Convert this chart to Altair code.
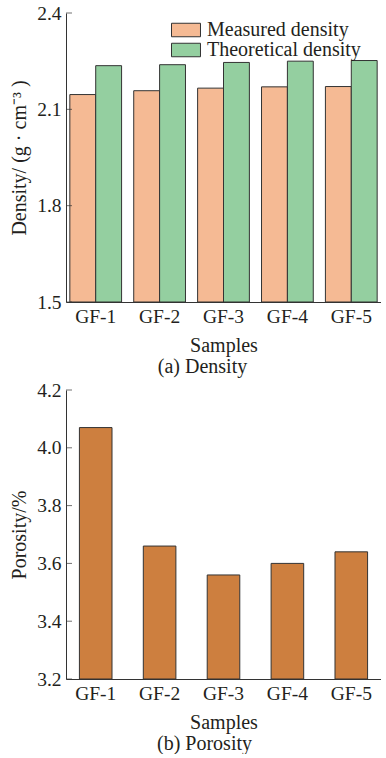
import altair as alt
import pandas as pd

# ---- data ----
samples = ["GF-1", "GF-2", "GF-3", "GF-4", "GF-5"]
measured_density = [2.146, 2.158, 2.166, 2.170, 2.171]
theoretical_density = [2.236, 2.239, 2.246, 2.250, 2.252]
porosity = [4.07, 3.66, 3.56, 3.60, 3.64]
series_names = ["Measured density", "Theoretical density"]
series_colors = ["#F5BA94", "#94CFA0"]
porosity_color = "#CD7F3F"
density_ticks = [1.5, 1.8, 2.1, 2.4]
porosity_ticks = [3.2, 3.4, 3.6, 3.8, 4.0, 4.2]

FONT = "Liberation Serif"
TXT = "#231F20"
LINE = "#333333"
W, H = 315, 289

df_density = pd.DataFrame({
    "Sample": samples * 2,
    "Series": [series_names[0]] * len(samples) + [series_names[1]] * len(samples),
    "Density": measured_density + theoretical_density,
})
df_por = pd.DataFrame({"Sample": samples, "Porosity": porosity})
df_dens_ticks = pd.DataFrame({"Density": density_ticks})
df_por_ticks = pd.DataFrame({"Porosity": porosity_ticks})


def x_axis():
    return alt.Axis(labelAngle=0, ticks=False, grid=False, labelPadding=5,
                    titlePadding=10, domainColor=LINE, labelFont=FONT,
                    labelFontSize=19.5, labelColor=TXT, titleFont=FONT,
                    titleFontSize=20, titleFontWeight="normal", titleColor=TXT)


def y_axis(title, values):
    return alt.Axis(title=title, values=values, format=".1f", ticks=False, grid=False,
                    labelPadding=5, titlePadding=7, domainColor=LINE,
                    labelFont=FONT, labelFontSize=19.5, labelColor=TXT,
                    titleFont=FONT, titleFontSize=20, titleFontWeight="normal",
                    titleColor=TXT)


# ---- (a) density ----
dens_scale = alt.Scale(domain=[1.5, 2.4], nice=False, zero=False)
dens_axis = y_axis("Density/ (g · cm⁻³ )", density_ticks)
bars_a = alt.Chart(df_density).mark_bar(stroke=LINE, strokeWidth=1).encode(
    x=alt.X("Sample:N", sort=samples, title="Samples",
            scale=alt.Scale(paddingInner=0.19, paddingOuter=0.06), axis=x_axis()),
    xOffset=alt.XOffset("Series:N", sort=series_names,
                        scale=alt.Scale(paddingInner=0, paddingOuter=0)),
    y=alt.Y("Density:Q", scale=dens_scale, axis=dens_axis),
    y2=alt.datum(density_ticks[0]),
    color=alt.Color("Series:N", sort=series_names,
                    scale=alt.Scale(domain=series_names, range=series_colors),
                    legend=alt.Legend(title=None, orient="none", legendX=110, legendY=7,
                                      symbolType="M-1.61,-0.75H1.61V0.75H-1.61Z",
                                      symbolSize=324,
                                      symbolStrokeColor=LINE, symbolStrokeWidth=1,
                                      symbolOpacity=1, labelFont=FONT, labelFontSize=20,
                                      labelColor=TXT, labelOffset=11, rowPadding=-2,
                                      padding=0)),
)
ticks_a = alt.Chart(df_dens_ticks).mark_tick(
    color=LINE, orient="horizontal", size=6, thickness=1).encode(
    y=alt.Y("Density:Q", scale=dens_scale, axis=dens_axis),
    x=alt.value(3))

chart_a = alt.layer(bars_a, ticks_a).properties(
    width=W, height=H,
    title=alt.TitleParams("(a) Density", orient="bottom", font=FONT, fontSize=20,
                          fontWeight="normal", color=TXT, offset=1, dx=-21,
                          anchor="middle", frame="group"))

# ---- (b) porosity ----
por_scale = alt.Scale(domain=[3.2, 4.2], nice=False, zero=False)
por_axis = y_axis("Porosity/%", porosity_ticks)
bars_b = alt.Chart(df_por).mark_bar(stroke=LINE, strokeWidth=1,
                                    color=porosity_color).encode(
    x=alt.X("Sample:N", sort=samples, title="Samples",
            scale=alt.Scale(paddingInner=0.49, paddingOuter=0.21), axis=x_axis()),
    y=alt.Y("Porosity:Q", scale=por_scale, axis=por_axis),
    y2=alt.datum(porosity_ticks[0]),
)
ticks_b = alt.Chart(df_por_ticks).mark_tick(
    color=LINE, orient="horizontal", size=6, thickness=1).encode(
    y=alt.Y("Porosity:Q", scale=por_scale, axis=por_axis),
    x=alt.value(3))

chart_b = alt.layer(bars_b, ticks_b).properties(
    width=W, height=H,
    title=alt.TitleParams("(b) Porosity", orient="bottom", font=FONT, fontSize=20,
                          fontWeight="normal", color=TXT, offset=1, dx=-19,
                          anchor="middle", frame="group"))

chart = alt.vconcat(chart_a, chart_b, spacing=3).properties(
    padding={"left": 9, "top": 3, "right": 0, "bottom": 0},
    background="white"
).configure_view(stroke=None).configure_axis(grid=False)

chart.save("out.html", embed_options={"renderer": "svg", "actions": False})
